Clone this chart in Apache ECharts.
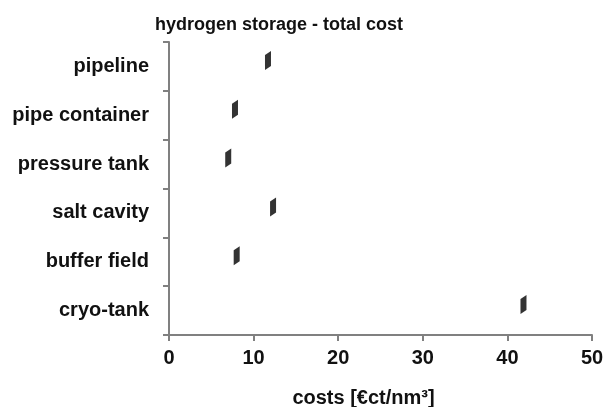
<!DOCTYPE html>
<html><head><meta charset="utf-8">
<script src="https://cdn.jsdelivr.net/npm/echarts@6/dist/echarts.min.js"></script>
<style>html,body{margin:0;padding:0;background:#fff}#c{width:608px;height:407px}</style>
</head><body><div id="c"></div>
<script>
const categories = ["pipeline", "pipe container", "pressure tank", "salt cavity", "buffer field", "cryo-tank"];
const costs = [11.7, 7.8, 7.0, 12.3, 8.0, 41.9];
const xTicks = [0, 10, 20, 30, 40, 50];

const chart = echarts.init(document.getElementById('c'), null, {renderer: 'canvas'});
const font = 'Liberation Sans, Arial, sans-serif';
chart.setOption({
  animation: false,
  title: {
    text: 'hydrogen storage - total cost', left: 150, top: 11,
    textStyle: {fontFamily: font, fontSize: 18, fontWeight: 'bold', color: '#111'}
  },
  grid: {left: 169, right: 16, top: 42, bottom: 72, containLabel: false, outerBoundsMode: 'none'},
  xAxis: {
    type: 'value', min: xTicks[0], max: xTicks[xTicks.length - 1], interval: 10,
    name: 'costs [€ct/nm³]', nameLocation: 'middle', nameGap: 53,
    nameTextStyle: {fontFamily: font, fontSize: 20, fontWeight: 'bold', color: '#111', padding: [0, 34, 0, 0]},
    axisLine: {show: true, lineStyle: {color: '#808080', width: 2}},
    axisTick: {show: true, inside: false, length: 6, lineStyle: {color: '#808080', width: 2}},
    axisLabel: {fontFamily: font, fontSize: 20, fontWeight: 'bold', color: '#111', margin: 13},
    splitLine: {show: false}
  },
  yAxis: {
    type: 'category', data: categories, inverse: true,
    axisLine: {show: true, lineStyle: {color: '#808080', width: 2}},
    axisTick: {show: true, inside: false, length: 6, lineStyle: {color: '#808080', width: 2}},
    axisLabel: {fontFamily: font, fontSize: 20, fontWeight: 'bold', color: '#111', margin: 20},
    splitLine: {show: false}
  },
  series: [{
    type: 'scatter',
    data: costs.map((v, i) => [v, categories[i]]),
    symbol: 'path://M0,4 L6,0 L6,15 L0,19 Z',
    symbolSize: [6, 19],
    symbolOffset: [0, -6],
    itemStyle: {color: '#000'}
  }]
});
</script></body></html>
